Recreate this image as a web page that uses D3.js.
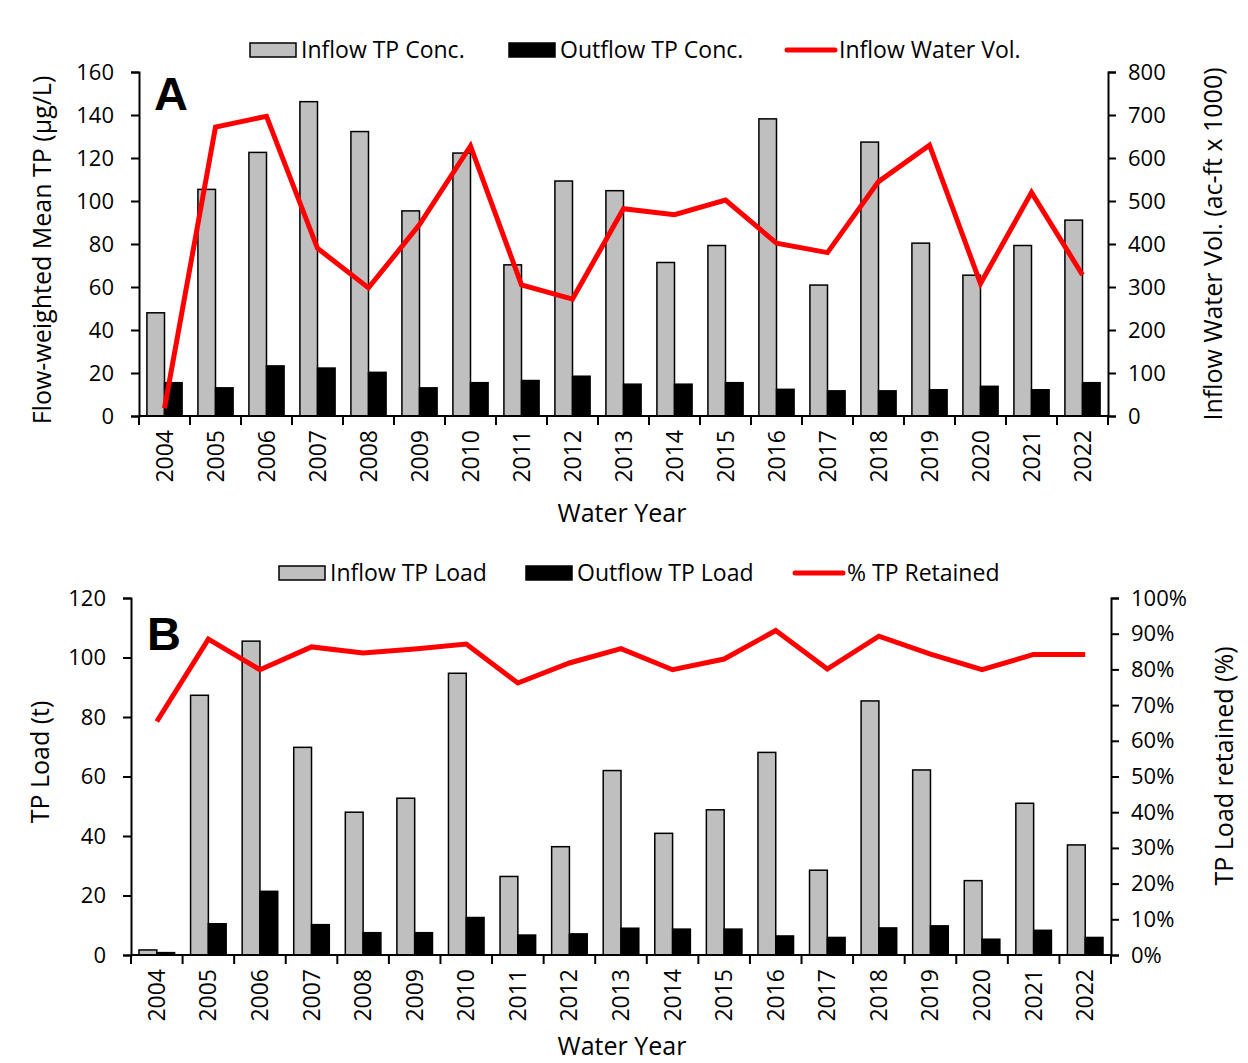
<!DOCTYPE html>
<html>
<head>
<meta charset="utf-8">
<script src="https://cdn.jsdelivr.net/npm/d3@7"></script>
<style>
  body { margin: 0; background: white; }
  svg { display: block; font-family: "Open Sans", sans-serif; }
</style>
</head>
<body>
<div id="chart"></div>
<script>
var years = ["2004","2005","2006","2007","2008","2009","2010","2011","2012","2013",
             "2014","2015","2016","2017","2018","2019","2020","2021","2022"];

// panel A
var inflowConc  = [48, 105.4, 122.6, 146.2, 132.3, 95.4, 122.3, 70.3, 109.3, 104.8,
                   71.4, 79.3, 138.2, 60.9, 127.4, 80.4, 65.5, 79.3, 91.1];
var outflowConc = [15.5, 13.1, 23.3, 22.3, 20.3, 13.1, 15.5, 16.5, 18.5, 14.8,
                   14.8, 15.5, 12.4, 11.7, 11.7, 12.2, 13.8, 12.2, 15.5];
var inflowVol   = [18, 672, 697, 390, 298, 445, 628, 305, 272, 482,
                   468, 502, 402, 380, 545, 630, 308, 520, 328];

// panel B
var inflowLoad  = [1.7, 87.3, 105.5, 69.8, 48, 52.7, 94.7, 26.4, 36.4, 62,
                   40.9, 48.8, 68.1, 28.5, 85.4, 62.2, 25, 51, 37];
var outflowLoad = [0.8, 10.5, 21.4, 10.2, 7.5, 7.5, 12.6, 6.7, 7.1, 9,
                   8.7, 8.7, 6.4, 5.9, 9.1, 9.8, 5.3, 8.3, 5.9];
var pctRetained = [65.4, 88.5, 79.9, 86.3, 84.6, 85.7, 87.1, 76.2, 81.8, 85.8,
                   79.9, 82.9, 90.9, 80.1, 89.3, 84.3, 79.9, 84.2, 84.2];

var leftTicksA = [0, 20, 40, 60, 80, 100, 120, 140, 160];
var rightTicksA = [0, 100, 200, 300, 400, 500, 600, 700, 800];
var leftTicksB = [0, 20, 40, 60, 80, 100, 120];
var rightTicksB = [0, 10, 20, 30, 40, 50, 60, 70, 80, 90, 100];

var width = 1248, height = 1063;
var tickSize = 22, labelSize = 23, titleSize = 25;

var svg = d3.select("#chart").append("svg")
  .attr("width", width)
  .attr("height", height);

function drawPanel(opt) {
  var g = svg.append("g");

  var x = d3.scaleBand()
    .domain(years)
    .range([opt.left, opt.right]);

  var yL = d3.scaleLinear().domain(opt.leftDomain).range([opt.bottom, opt.top]);
  var yR = d3.scaleLinear().domain(opt.rightDomain).range([opt.bottom, opt.top]);

  var bw = x.bandwidth();
  var barW = bw * 0.345;
  var off = bw * 0.155;

  // bars
  g.selectAll("rect.inflow")
    .data(opt.inflow)
    .enter().append("rect")
      .attr("class", "inflow")
      .attr("x", function(d, i) { return x(years[i]) + off; })
      .attr("y", function(d) { return yL(d); })
      .attr("width", barW)
      .attr("height", function(d) { return yL(0) - yL(d); })
      .attr("fill", "#bfbfbf")
      .attr("stroke", "#000")
      .attr("stroke-width", 1.5);

  g.selectAll("rect.outflow")
    .data(opt.outflow)
    .enter().append("rect")
      .attr("class", "outflow")
      .attr("x", function(d, i) { return x(years[i]) + off + barW; })
      .attr("y", function(d) { return yL(d); })
      .attr("width", barW)
      .attr("height", function(d) { return yL(0) - yL(d); })
      .attr("fill", "#000")
      .attr("stroke", "#000")
      .attr("stroke-width", 1.5);

  // line on the right axis
  var line = d3.line()
    .x(function(d, i) { return x(years[i]) + bw / 2; })
    .y(function(d) { return yR(d); });

  g.append("path")
    .datum(opt.lineData)
    .attr("d", line)
    .attr("fill", "none")
    .attr("stroke", "#ff0000")
    .attr("stroke-width", 5)
    .attr("stroke-linejoin", "miter");

  // left axis
  var axL = g.append("g")
    .attr("transform", "translate(" + opt.left + ",0)")
    .call(d3.axisLeft(yL).tickValues(opt.leftTicks).tickSize(8).tickPadding(17));
  // right axis
  var axR = g.append("g")
    .attr("transform", "translate(" + opt.right + ",0)")
    .call(d3.axisRight(yR).tickValues(opt.rightTicks).tickSize(8).tickPadding(12)
      .tickFormat(opt.rightFormat));

  // x axis: ticks at band boundaries
  var axX = g.append("g")
    .attr("transform", "translate(0," + opt.bottom + ")");
  axX.append("line")
    .attr("x1", opt.left).attr("x2", opt.right)
    .attr("stroke", "#000").attr("stroke-width", 2);
  axX.selectAll("line.tick")
    .data(years.concat(["end"]))
    .enter().append("line")
      .attr("class", "tick")
      .attr("x1", function(d, i) { return opt.left + i * bw; })
      .attr("x2", function(d, i) { return opt.left + i * bw; })
      .attr("y1", 0).attr("y2", 9)
      .attr("stroke", "#000").attr("stroke-width", 2);
  axX.selectAll("text")
    .data(years)
    .enter().append("text")
      .attr("transform", function(d) {
        return "translate(" + (x(d) + bw / 2 + 8) + ",14) rotate(-90)";
      })
      .attr("text-anchor", "end")
      .attr("font-size", labelSize)
      .attr("fill", "#000")
      .text(function(d) { return d; });

  [axL, axR].forEach(function(a) {
    a.select(".domain").attr("stroke-width", 2).attr("stroke", "#000");
    a.selectAll(".tick line").attr("stroke-width", 2).attr("stroke", "#000");
    a.selectAll(".tick text").attr("font-size", tickSize).attr("fill", "#000")
      .attr("font-family", "Open Sans, sans-serif");
  });

  // axis titles
  g.append("text")
    .attr("transform", "translate(" + opt.leftTitleX + "," + opt.leftTitleY + ") rotate(-90)")
    .attr("text-anchor", "middle")
    .attr("dy", "0.35em")
    .attr("font-size", titleSize)
    .text(opt.leftTitle);
  g.append("text")
    .attr("transform", "translate(" + opt.rightTitleX + "," + opt.rightTitleY + ") rotate(-90)")
    .attr("text-anchor", "middle")
    .attr("dy", "0.35em")
    .attr("font-size", titleSize)
    .text(opt.rightTitle);
  g.append("text")
    .attr("x", 622)
    .attr("y", opt.xTitleY)
    .attr("text-anchor", "middle")
    .attr("font-size", titleSize)
    .text("Water Year");

  // panel letter
  g.append("text")
    .attr("x", opt.letterX)
    .attr("y", opt.letterY)
    .attr("font-family", "Liberation Sans, Arial, sans-serif")
    .attr("font-weight", "bold")
    .attr("font-size", 47)
    .text(opt.letter);

  // legend
  var lg = g.append("g").attr("transform", "translate(0," + opt.legendY + ")");
  lg.append("rect")
    .attr("x", opt.legendX[0]).attr("y", -7).attr("width", 46).attr("height", 14)
    .attr("fill", "#bfbfbf").attr("stroke", "#000").attr("stroke-width", 1.5);
  lg.append("rect")
    .attr("x", opt.legendX[1]).attr("y", -7).attr("width", 46).attr("height", 14)
    .attr("fill", "#000").attr("stroke", "#000").attr("stroke-width", 1.5);
  lg.append("line")
    .attr("x1", opt.legendX[2]).attr("x2", opt.legendX[2] + 48)
    .attr("stroke", "#ff0000").attr("stroke-width", 5).attr("stroke-linecap", "round");
  opt.legendLabels.forEach(function(t, i) {
    lg.append("text")
      .attr("x", opt.legendX[i] + (i == 2 ? 52 : 51))
      .attr("dy", "0.35em")
      .attr("font-size", labelSize)
      .text(t);
  });
}

drawPanel({
  letter: "A", letterX: 154, letterY: 110,
  left: 139, right: 1108, top: 72, bottom: 416,
  leftDomain: [0, 160], rightDomain: [0, 800],
  leftTicks: leftTicksA, rightTicks: rightTicksA,
  rightFormat: function(d) { return d; },
  inflow: inflowConc, outflow: outflowConc, lineData: inflowVol,
  leftTitle: "Flow-weighted Mean TP (µg/L)", leftTitleX: 42, leftTitleY: 250,
  rightTitle: "Inflow Water Vol. (ac-ft x 1000)", rightTitleX: 1213, rightTitleY: 244,
  xTitleY: 522,
  legendY: 50, legendX: [250, 509, 787],
  legendLabels: ["Inflow TP Conc.", "Outflow TP Conc.", "Inflow Water Vol."]
});

drawPanel({
  letter: "B", letterX: 147, letterY: 650,
  left: 131, right: 1111, top: 598, bottom: 955,
  leftDomain: [0, 120], rightDomain: [0, 100],
  leftTicks: leftTicksB, rightTicks: rightTicksB,
  rightFormat: function(d) { return d + "%"; },
  inflow: inflowLoad, outflow: outflowLoad, lineData: pctRetained,
  leftTitle: "TP Load (t)", leftTitleX: 40, leftTitleY: 762,
  rightTitle: "TP Load retained (%)", rightTitleX: 1224, rightTitleY: 766,
  xTitleY: 1055,
  legendY: 573, legendX: [279, 526, 795],
  legendLabels: ["Inflow TP Load", "Outflow TP Load", "% TP Retained"]
});
</script>
</body>
</html>
